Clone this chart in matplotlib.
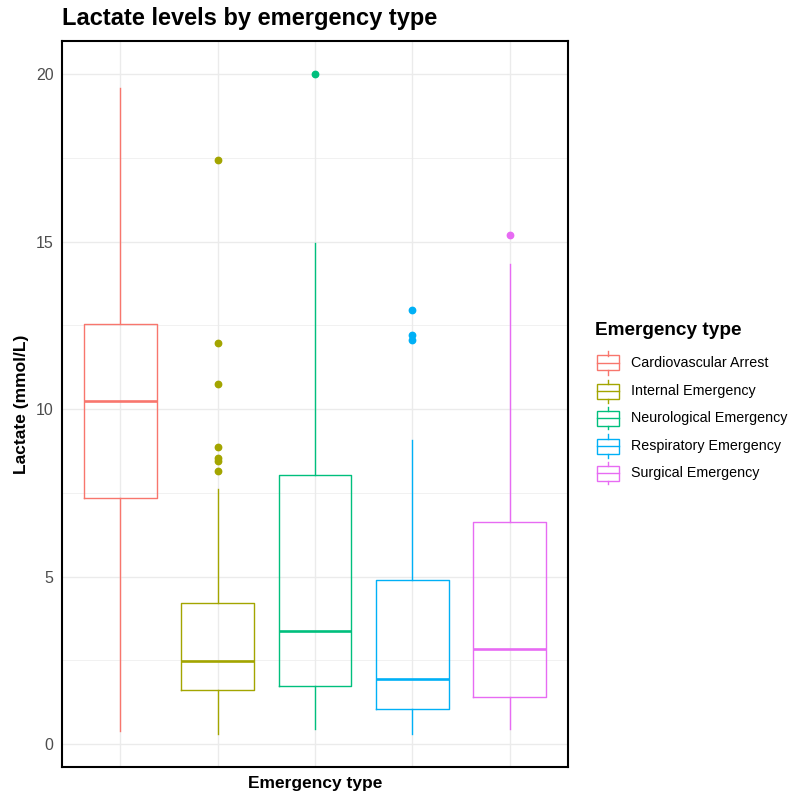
import numpy as np
import matplotlib.pyplot as plt
from matplotlib.patches import Rectangle
from matplotlib.lines import Line2D
from matplotlib.ticker import MultipleLocator

plt.rcParams['font.family'] = ['Liberation Sans', 'DejaVu Sans']

# values
categories = ['Cardiovascular Arrest', 'Internal Emergency', 'Neurological Emergency',
              'Respiratory Emergency', 'Surgical Emergency']
whisker_low = [0.39, 0.30, 0.45, 0.30, 0.45]
q1 = [7.34, 1.61, 1.73, 1.04, 1.40]
median = [10.24, 2.48, 3.37, 1.94, 2.84]
q3 = [12.54, 4.21, 8.03, 4.90, 6.63]
whisker_high = [19.58, 7.61, 14.96, 9.07, 14.33]
outliers = [
    [],
    [8.15, 8.46, 8.54, 8.87, 10.76, 11.96, 17.43],
    [20.0],
    [12.06, 12.2, 12.96],
    [15.19],
]
colors = ['#F8766D', '#A3A500', '#00BF7D', '#00B0F6', '#E76BF3']

W, H = 792, 796
fig = plt.figure(figsize=(W / 100, H / 100), dpi=100)
ax = fig.add_axes([62 / W, 1 - 767 / H, (568 - 62) / W, (767 - 41) / H])

positions = np.arange(1, len(categories) + 1)
for i, name in enumerate(categories):
    s = {'label': name, 'whislo': whisker_low[i], 'q1': q1[i], 'med': median[i],
         'q3': q3[i], 'whishi': whisker_high[i], 'fliers': outliers[i]}
    c = colors[i]
    ax.bxp([s], positions=[positions[i]], widths=0.75, showcaps=False, zorder=3,
           boxprops=dict(color=c, linewidth=1.0),
           whiskerprops=dict(color=c, linewidth=1.0),
           medianprops=dict(color=c, linewidth=1.9, solid_capstyle='butt'),
           flierprops=dict(marker='o', markerfacecolor=c, markeredgecolor=c,
                           markersize=4.6, linestyle='none'))

ax.set_xlim(0.4, 5.6)
ax.set_ylim(-0.685, 20.985)
ax.yaxis.set_major_locator(MultipleLocator(5))
ax.yaxis.set_minor_locator(MultipleLocator(2.5))
ax.set_xticks(positions)
ax.set_xticklabels([])
ax.grid(True, which='major', color='#EBEBEB', linewidth=1.0, zorder=0)
ax.grid(True, which='minor', axis='y', color='#EBEBEB', linewidth=0.5, zorder=0)
ax.set_axisbelow(True)
ax.tick_params(axis='both', which='both', length=0)
ax.tick_params(axis='y', labelsize=11.5, labelcolor='#4D4D4D', pad=6)
for sp in ax.spines.values():
    sp.set_linewidth(1.5)
    sp.set_color('black')

ax.set_ylabel('Lactate (mmol/L)', fontsize=12.5, fontweight='bold', labelpad=5)
ax.set_xlabel('Emergency type', fontsize=12.5, fontweight='bold', labelpad=3)
fig.text(62 / W, 1 - 19 / H, 'Lactate levels by emergency type', fontsize=17,
         fontweight='bold', va='center', ha='left')

# legend, drawn by hand in pixel coordinates
def fx(px):
    return px / W


def fy(py):
    return 1 - py / H


fig.text(fx(595), fy(331), 'Emergency type', fontsize=13.7, fontweight='bold',
         va='center', ha='left')
key_y = [363, 391, 418, 446, 473]
for name, c, yk in zip(categories, colors, key_y):
    fig.add_artist(Rectangle((fx(597), fy(yk + 7.5)), 22 / W, 15 / H, facecolor='white',
                             edgecolor=c, linewidth=1.0, transform=fig.transFigure))
    fig.add_artist(Line2D([fx(597), fx(619)], [fy(yk), fy(yk)], color=c, linewidth=1.0,
                          transform=fig.transFigure))
    fig.add_artist(Line2D([fx(608), fx(608)], [fy(yk - 7.5), fy(yk - 11.5)], color=c,
                          linewidth=1.0, transform=fig.transFigure))
    fig.add_artist(Line2D([fx(608), fx(608)], [fy(yk + 7.5), fy(yk + 11.5)], color=c,
                          linewidth=1.0, transform=fig.transFigure))
    fig.text(fx(631), fy(yk), name, fontsize=10.3, va='center', ha='left')

fig.savefig('out.png', dpi=100)
